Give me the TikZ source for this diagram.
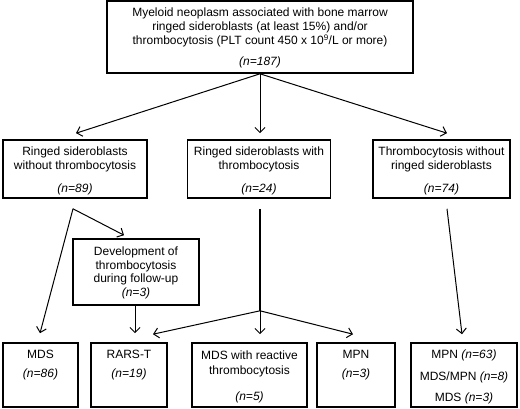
\documentclass[tikz,border=0pt]{standalone}
\usepackage{fontspec}
\setmainfont{Liberation Sans}
\usetikzlibrary{arrows.meta}
\begin{document}
\begin{tikzpicture}[x=1pt,y=-1pt,
  box/.style={draw, line width=1.6pt, inner sep=0pt, minimum width=#1},
  txt/.style={inner sep=0pt, anchor=north, align=center, font=\fontsize{12}{14}\selectfont},
  arr/.style={line width=1pt, -{Straight Barb[length=5pt,width=10pt]}},
  ln/.style={line width=1pt}]
\useasboundingbox (0,0) rectangle (520,409);
% boxes
\node[box=306pt, minimum height=72pt] (top) at (260,37) {};
\node[box=144pt, minimum height=58pt] (b1) at (75,169) {};
\node[box=143pt, minimum height=58pt] (b2) at (259,169) {};
\node[box=137pt, minimum height=58pt] (b3) at (441.5,169) {};
\node[box=126pt, minimum height=66pt] (dev) at (136,272) {};
\node[box=75pt, minimum height=64pt] (m1) at (40.5,375) {};
\node[box=76pt, minimum height=64pt] (m2) at (129,375) {};
\node[box=115pt, minimum height=64pt] (m3) at (249.5,375) {};
\node[box=78pt, minimum height=64pt] (m4) at (356,375) {};
\node[box=106pt, minimum height=64pt] (m5) at (464,375) {};
% texts
\node[txt] (t0) at (260,8) {Myeloid neoplasm associated with bone marrow\\ringed sideroblasts (at least 15\%) and/or\\thrombocytosis (PLT count 450 x 10\textsuperscript{9}/L or more)\\[7pt]\textit{(n=187)}};
\node[txt] (t1) at (75,147) {Ringed sideroblasts\\without thrombocytosis\\[9pt]\textit{(n=89)}};
\node[txt] (t2) at (259,147) {Ringed sideroblasts with\\thrombocytosis\\[9pt]\textit{(n=24)}};
\node[txt] (t3) at (441.5,147) {Thrombocytosis without\\ringed sideroblasts\\[9pt]\textit{(n=74)}};
\node[txt, font=\fontsize{12}{13.4}\selectfont] (td) at (136,247) {Development of\\thrombocytosis\\during follow-up\\\textit{(n=3)}};
\node[txt] (tm1) at (40.5,350) {MDS\\[5pt]\textit{(n=86)}};
\node[txt] (tm2) at (129,350) {RARS-T\\[5pt]\textit{(n=19)}};
\node[txt, font=\fontsize{12}{15}\selectfont] (tm3) at (249.5,351) {MDS with reactive\\thrombocytosis\\[11pt]\textit{(n=5)}};
\node[txt] (tm4) at (356,350) {MPN\\[5pt]\textit{(n=3)}};
\node[txt, font=\fontsize{12}{21.5}\selectfont] (tm5) at (464,350) {MPN \textit{(n=63)}\\MDS/MPN \textit{(n=8)}\\MDS \textit{(n=3)}};
% connectors
\draw[arr] (top.south) -- ([xshift=1pt,yshift=6pt]b1.north);
\draw[arr] (top.south) -- ([xshift=1pt,yshift=6pt]b2.north);
\draw[arr] (top.south) -- ([xshift=5.5pt,yshift=6pt]b3.north);
\coordinate (s1) at ([xshift=-2pt,yshift=-10pt]b1.south);
\draw[arr] (s1) -- ([xshift=-0.5pt,yshift=9pt]m1.north);
\draw[arr] (s1) -- ([xshift=-12pt,yshift=3pt]dev.north);
\draw[arr] ([xshift=-1pt]dev.south) -- ([xshift=6pt,yshift=9pt]m2.north);
\coordinate (s2) at ([xshift=1pt,yshift=-10pt]b2.south);
\coordinate (br) at ([xshift=1pt,yshift=-112pt]b2.south);
\draw[line width=1.5pt] (s2) -- (br);
\draw[arr] (br) -- ([xshift=24pt,yshift=8pt]m2.north);
\draw[arr] (br) -- ([xshift=10.5pt,yshift=8pt]m3.north);
\draw[arr] (br) -- ([xshift=-3pt,yshift=8pt]m4.north);
\coordinate (s3) at ([xshift=5.5pt,yshift=-10pt]b3.south);
\draw[arr] (s3) -- ([xshift=-2pt,yshift=8pt]m5.north);
\end{tikzpicture}
\end{document}
